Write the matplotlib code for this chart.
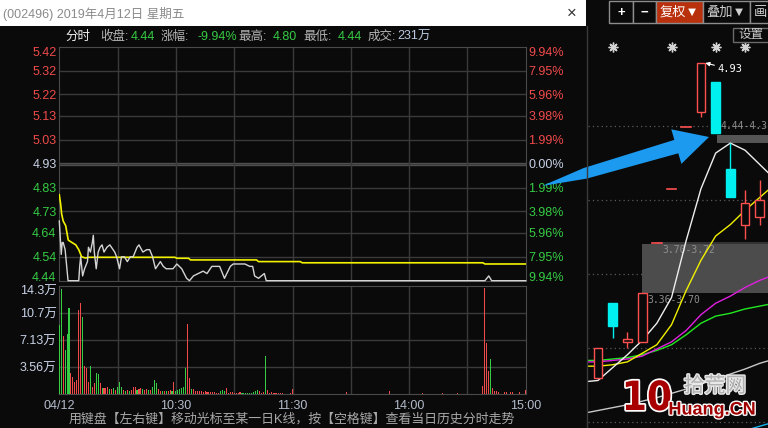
import matplotlib
matplotlib.use("Agg")
import matplotlib.pyplot as plt
import matplotlib.patheffects as pe
from matplotlib.patches import Rectangle, Polygon
from matplotlib.transforms import blended_transform_factory
import numpy as np

plt.rcParams['font.family'] = ['Liberation Sans', 'Noto Sans CJK SC', 'DejaVu Sans']

# ---------------- data ----------------
title = "(002496) 2019年4月12日 星期五"
prev_close = 4.93
price_ticks = [5.42, 5.32, 5.22, 5.13, 5.03, 4.93, 4.83, 4.73, 4.64, 4.54, 4.44]
pct_ticks = ['9.94%', '7.95%', '5.96%', '3.98%', '1.99%', '0.00%',
             '1.99%', '3.98%', '5.96%', '7.95%', '9.94%']

# minute line (minutes after 9:30, trading minutes only)
price_min = [0, 1, 1.5, 2, 3, 4.5, 10, 10.5, 11, 12, 13, 14.5,
             15, 16, 17, 17.5, 18, 19, 20, 21, 22, 23, 24.5, 26,
             28.5, 29.5, 31, 32, 33.5, 35, 36.5, 38, 40, 41, 43, 45,
             46.5, 48, 49.5, 52, 53.5, 55, 58.5, 60.5, 63, 65.5, 67, 69,
             71.5, 74, 76, 78.5, 82.5, 85, 88, 89.5, 92, 95.5, 98, 99.5,
             100.5, 102.5, 104, 105.5, 106.5, 219, 221, 222.5, 240]
price = [4.69, 4.55, 4.60, 4.60, 4.57, 4.44, 4.44, 4.50, 4.54, 4.46, 4.49, 4.52,
         4.58, 4.56, 4.60, 4.63, 4.56, 4.49, 4.56, 4.58, 4.59, 4.56, 4.58, 4.59,
         4.56, 4.54, 4.49, 4.54, 4.54, 4.52, 4.54, 4.54, 4.58, 4.59, 4.56, 4.57,
         4.57, 4.54, 4.49, 4.52, 4.50, 4.49, 4.49, 4.51, 4.49, 4.45, 4.44, 4.46,
         4.47, 4.48, 4.47, 4.50, 4.50, 4.45, 4.50, 4.51, 4.51, 4.51, 4.50, 4.50,
         4.46, 4.45, 4.46, 4.47, 4.44, 4.44, 4.46, 4.44, 4.44]
avg_min = [0, 0.7, 1.2, 2, 3.3, 4.6, 6.5, 8.5, 10, 11.5, 13.5, 15,
           59.5, 60.5, 66.5, 67.5, 101.5, 102.5, 124, 125, 218, 219, 240]
avg_price = [4.80, 4.76, 4.72, 4.69, 4.67, 4.61, 4.60, 4.59, 4.57, 4.54, 4.535, 4.538,
             4.538, 4.534, 4.534, 4.527, 4.527, 4.52, 4.52, 4.515, 4.515, 4.51, 4.51]

# volume (万), morning minute by minute, R = up, G = down
vol_am = [9.1, 13.9, 7.66, 5.8, 7.9, 11.35, 2.77, 2.24, 1.62, 1.85,
          11.1, 12.0, 10.2, 3.7, 3.43, 1.6, 3.7, 0.97, 1.4, 2.77,
          2.64, 1.41, 0.83, 0.8, 0.8, 0.88, 0.7, 0.66, 0.8, 0.53,
          0.88, 1.58, 0.88, 0.53, 0.4, 0.53, 0.44, 0.53, 0.92, 0.88,
          0.53, 0.7, 0.83, 0.62, 0.53, 0.66, 0.48, 0.53, 0.92, 1.85,
          1.41, 0.62, 0.4, 0.4, 0.4, 0.4, 0.4, 0.53, 0.4, 1.62,
          0.4, 0.53, 0.62, 0.83, 0.97, 3.47, 9.24, 2.07, 0.66, 0.7,
          0.4, 0.4, 0.4, 0.4, 0.26, 0.44, 0.31, 0.31, 0.31, 0.31,
          0.31, 0.18, 0.18, 0.44, 0.53, 0.35, 0.8, 0.18, 0.31, 0.31,
          0.18, 0.18, 0.18, 0.31, 0.18, 0.18, 0.18, 0.18, 0.18, 0.18,
          0.31, 0.44, 0.57, 0.35, 0.18, 0.31, 5.0, 0.57, 0.18, 0.31,
          0.18, 0.18, 0.18, 0.18, 0.18, 0.18, 0, 0, 0, 0.18,
          0.66]
vol_am_dir = ("GGRGGGRRRR" "RRGRRRGRRG" "GRGRRRGRGR" "GGGRGRGRRR"
              "GRRGRRGRGG" "GRRGRGRRGR" "GGGGGGRRGR" "RRRRRRRRRR"
              "RRRGGGRRRR" "RRRRGGGGGG" "GGGRRRGRRR" "RRRRRRRRRR" "R")
vol_pm_idx = [148, 170, 187, 197, 205, 218, 219, 220, 221, 222,
              223, 224, 225, 226, 229, 230, 232, 233, 237, 240]
vol_pm = [0.2, 0.44, 0.18, 0.18, 0.18, 1.06, 14.1, 6.77, 3.04, 4.62,
          0.75, 0.44, 0.4, 0.2, 0.31, 0.2, 0.31, 0.2, 0.31, 0.57]
vol_pm_dir = "RRRRRRRRRGRRRRRRRRRR"
vol_ticks = [14.3, 10.7, 7.13, 3.56]
vol_labels = ['14.3万', '10.7万', '7.13万', '3.56万']
time_ticks = [0, 60, 120, 180, 240]
time_labels = ['04/12', '10:30', '11:30', '14:00', '15:00']

# daily K line on the right side
k_open = [2.73, 3.25, 2.98, 2.98, 3.67, 4.05, 4.48, 4.59, 4.80, 4.19, 3.80, 3.85]
k_close = [2.94, 3.09, 3.00, 3.32, 3.67, 4.05, 4.48, 4.93, 4.44, 3.99, 3.95, 3.97]
k_high = [2.94, 3.25, 3.05, 3.32, 3.67, 4.05, 4.48, 4.93, 4.80, 4.37, 4.04, 4.11]
k_low = [2.73, 3.01, 2.94, 2.98, 3.67, 4.05, 4.48, 4.55, 4.44, 3.99, 3.70, 3.80]
ma_x = [-1, 0, 1, 2, 3, 4, 5, 6, 7, 8, 9, 10, 11, 12]
ma5 = [2.70, 2.71, 2.80, 2.89, 2.99, 3.11, 3.29, 3.69, 4.05, 4.30, 4.37, 4.32, 4.22, 4.12]
ma10 = [2.81, 2.81, 2.82, 2.84, 2.90, 2.96, 3.10, 3.34, 3.55, 3.72, 3.80, 3.90, 3.99, 4.08]
ma20 = [2.84, 2.84, 2.85, 2.86, 2.88, 2.93, 2.98, 3.06, 3.17, 3.25, 3.30, 3.36, 3.41, 3.45]
ma30 = [2.85, 2.85, 2.86, 2.87, 2.89, 2.92, 2.96, 3.03, 3.11, 3.16, 3.18, 3.21, 3.23, 3.25]
ma60 = [2.48, 2.50, 2.52, 2.54, 2.565, 2.59, 2.62, 2.65, 2.685, 2.72, 2.755, 2.79, 2.83, 2.86]
ma120 = [2.27, 2.28, 2.29, 2.30, 2.31, 2.32, 2.33, 2.34, 2.35, 2.32, 2.33, 2.36, 2.39, 2.42]
k_grid = [4.489, 3.972, 3.454, 2.937, 2.42]
star_idx = [1, 5, 8, 10]

# ---------------- style ----------------
W, H = 768, 428
BG = '#0a0a0a'
GRID = '#3a3a3a'
RED = '#f04a4a'
GREEN = '#36cc44'
NEUTRAL = '#c8d2e6'
AXTXT = '#b4bccb'

fig = plt.figure(figsize=(W / 100, H / 100), dpi=100, facecolor=BG)


def box(x0, y0, x1, y1):
    return [x0 / W, 1 - y1 / H, (x1 - x0) / W, (y1 - y0) / H]


# ---------------- price panel ----------------
ax = fig.add_axes(box(59.3, 46.7, 525.7, 280.7))
ax.set_facecolor(BG)
ax.set_xlim(0, 240)
ax.set_ylim(price_ticks[-1], price_ticks[0])
ax.set_xticks(range(30, 240, 30))
ax.set_yticks(price_ticks[1:-1])
ax.grid(True, color=GRID, lw=1)
ax.tick_params(length=0, labelleft=False, labelbottom=False)
for s in ax.spines.values():
    s.set_color('#4a4a4a')
ax.axhline(prev_close, color='#555555', lw=2.4, zorder=1.5)
ax.plot(avg_min, avg_price, color='#f2f200', lw=1.2, zorder=3)
ax.plot(price_min, price, color='#d4d4d4', lw=1.0, zorder=4, clip_on=False)

tr = blended_transform_factory(ax.transAxes, ax.transData)
for i, (p, pc) in enumerate(zip(price_ticks, pct_ticks)):
    if p > prev_close + 1e-9:
        c = RED
    elif p < prev_close - 1e-9:
        c = GREEN
    else:
        c = NEUTRAL
    va = 'top' if i == 0 else ('baseline' if i == len(price_ticks) - 1 else 'center_baseline')
    ax.text(-0.006, p, f'{p:.2f}', transform=tr, ha='right', va=va, color=c, fontsize=9)
    ax.text(1.006, p, pc, transform=tr, ha='left', va=va, color=c, fontsize=9)

# ---------------- volume panel ----------------
axv = fig.add_axes(box(59.3, 286, 525.7, 394))
axv.set_facecolor(BG)
axv.set_xlim(0, 240)
axv.set_ylim(0, vol_ticks[0])
axv.set_xticks(range(30, 240, 30))
axv.set_yticks(vol_ticks[1:])
axv.grid(True, color=GRID, lw=1)
axv.tick_params(length=0, labelleft=False, labelbottom=False)
for s in axv.spines.values():
    s.set_color('#4a4a4a')

bx = list(range(len(vol_am))) + vol_pm_idx
bh = vol_am + vol_pm
bc = [RED if d == 'R' else GREEN for d in vol_am_dir + vol_pm_dir]
axv.bar(bx, bh, width=0.55, color=bc, zorder=3, antialiased=False)

trv = blended_transform_factory(axv.transAxes, axv.transData)
for i, (v, lab) in enumerate(zip(vol_ticks, vol_labels)):
    axv.text(-0.006, v, lab, transform=trv, ha='right',
             va='top' if i == 0 else 'center_baseline', color=NEUTRAL, fontsize=9)

trt = blended_transform_factory(axv.transData, axv.transAxes)
for t, lab in zip(time_ticks, time_labels):
    axv.text(t, -0.11, lab, transform=trt, ha='center', va='center',
             color=AXTXT, fontsize=9)

# ---------------- daily K panel ----------------
kax = fig.add_axes(box(588, 26, 768, 428))
kax.set_facecolor(BG)
kax.set_xlim(-0.68, 11.56)
kax.set_ylim(2.3776, 5.1887)
kax.set_axis_off()

for g in k_grid:
    kax.axhline(g, color='#5a5a5a', ls=(0, (1, 2.5)), lw=0.9, zorder=0.5)

kax.add_patch(Rectangle((2.99, 3.322), 10, 0.342, fc='#4c4c4c', ec='none', zorder=1))
kax.add_patch(Rectangle((4.0, 3.664), 10, 0.016, fc='#333333', ec='none', zorder=1))
kax.add_patch(Rectangle((8.1, 4.371), 5, 0.055, fc='#555555', ec='none', zorder=1))
mono = dict(family=['DejaVu Sans Mono'], fontsize=7.0, color='#8e8e8e')
kax.text(4.35, 3.62, '3.70-3.72', va='center', zorder=2, **mono)
kax.text(3.33, 3.273, '3.36-3.70', va='center', zorder=2, **mono)
kax.text(8.35, 4.49, '4.44-4.3', va='center', zorder=2, **mono)

kax.plot(ma_x, ma120, color='#14b4f0', lw=1, zorder=2)
kax.plot(ma_x, ma60, color='#c8c8c8', lw=1, zorder=2)
kax.plot(ma_x, ma30, color='#22e822', lw=1, zorder=2)
kax.plot(ma_x, ma20, color='#e020e0', lw=1, zorder=2)
kax.plot(ma_x, ma10, color='#f0f000', lw=1, zorder=2)
kax.plot(ma_x, ma5, color='#eeeeee', lw=1, zorder=2)

for i, (o, c, h, l) in enumerate(zip(k_open, k_close, k_high, k_low)):
    lo, hi = min(o, c), max(o, c)
    if o == c:
        kax.plot([i - 0.33, i + 0.33], [o, o], color='#ff5050', lw=1.2, zorder=3)
        continue
    col = '#ff5050' if c > o else '#00f0f0'
    kax.vlines(i, hi, h, color=col, lw=1, zorder=3)
    kax.vlines(i, l, lo, color=col, lw=1, zorder=3)
    kax.add_patch(Rectangle((i - 0.3, lo), 0.6, hi - lo,
                            fc=BG if c > o else col, ec=col, lw=1, zorder=4))

kax.plot(star_idx, [5.042] * len(star_idx), ls='', marker=(8, 2, 0), ms=7,
         mew=1, color='#d4d4d4', zorder=4)
kax.annotate('4.93', xy=(7.3, 4.93), xytext=(8.1, 4.888), color='white',
             family=['DejaVu Sans Mono'], fontsize=7.5, va='center', zorder=5,
             arrowprops=dict(arrowstyle='-|>', color='white', lw=0.8, mutation_scale=6,
                             shrinkA=0, shrinkB=0))

# ---------------- overlay: title bar, toolbar, arrow, watermark ----------------
ov = fig.add_axes([0, 0, 1, 1], zorder=10)
ov.set_xlim(0, W)
ov.set_ylim(H, 0)
ov.set_axis_off()
ov.patch.set_alpha(0)

ov.add_patch(Rectangle((0, 0), 586, 26, fc='white', ec='none'))
ov.text(3, 13.5, title, color='#8a8a8a', fontsize=9, va='center')
ov.text(572, 13, '×', color='#333333', fontsize=12, ha='center', va='center')
ov.plot([587, 587], [26, H], color='#3a3a3a', lw=1)

# info line
info = [(65, '分时', '#f0f0f0'), (100, '收盘:', '#b4b4b4'), (131, '4.44', GREEN),
        (161, '涨幅:', '#b4b4b4'), (198, '-9.94%', GREEN), (238, '最高:', '#b4b4b4'),
        (273, '4.80', GREEN), (303, '最低:', '#b4b4b4'), (338, '4.44', GREEN),
        (368, '成交:', '#b4b4b4'), (397, '231万', '#b8c8e0')]
for x, s, c in info:
    ov.text(x, 37, s, color=c, fontsize=9, va='center')

ov.text(292, 419, '用键盘【左右键】移动光标至某一日K线，按【空格键】查看当日历史分时走势',
        color='#a8a8a8', fontsize=9.3, ha='center', va='center')

# toolbar
buttons = [('+', 609, 633, 621, BG, 'white'), ('−', 633, 656, 644.5, BG, 'white'),
           ('复权▼', 656, 703, 679.5, '#b8300c', 'white'),
           ('叠加▼', 703, 750, 726.5, BG, '#d0d0d0'), ('画', 750, 776, 760, BG, '#d0d0d0')]
for s, x0, x1, xc, fc, tc in buttons:
    ov.add_patch(Rectangle((x0, 1), x1 - x0, 22, fc=fc, ec='#8c8c8c', lw=1))
    ov.text(xc, 12.5, s, color=tc, fontsize=9.5, ha='center', va='center',
            weight='bold' if s in '+−' else 'normal')
ov.add_patch(Rectangle((733, 27.5), 40, 14, fc=BG, ec='#6a6a6a', lw=1))
ov.text(738, 35, '设置', color='#c8c8c8', fontsize=9, va='center')

# big blue arrow
T = np.array([542.0, 186.0])
tip = np.array([709.0, 137.0])
u = (tip - T) / np.linalg.norm(tip - T)
n = np.array([-u[1], u[0]])
sh = 140
pts = [T, T + 45 * u - 5.5 * n, T + sh * u - 7 * n, T + sh * u - 18 * n, tip,
       T + sh * u + 18 * n, T + sh * u + 7 * n, T + 45 * u + 5.5 * n]
ov.add_patch(Polygon(pts, closed=True, fc='#1b9af0', ec='none'))

# watermark
ov.text(647, 399, '10', color='#a80000', fontsize=29, weight='bold', ha='center', va='center',
        family=['DejaVu Sans'], fontstretch='condensed',
        path_effects=[pe.withStroke(linewidth=2.5, foreground='white')])
ov.text(715, 386, '拾荒网', color='#b0b0b0', fontsize=15, ha='center', va='center',
        path_effects=[pe.withStroke(linewidth=2, foreground='#e8e8e8')])
ov.text(712, 410, 'Huang.CN', color='#a00000', fontsize=13, weight='bold', ha='center',
        va='center', path_effects=[pe.withStroke(linewidth=2, foreground='white')])

fig.savefig('out.png', dpi=100, facecolor=BG)
